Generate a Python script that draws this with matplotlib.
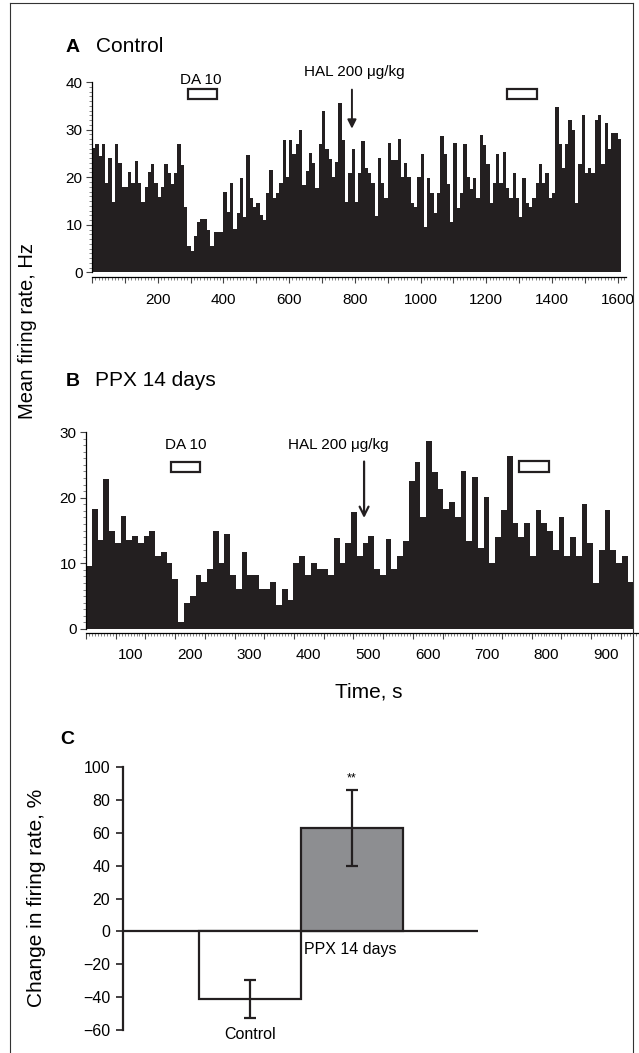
import matplotlib
matplotlib.use('Agg')
import matplotlib.pyplot as plt
from matplotlib.patches import Rectangle
from matplotlib.lines import Line2D
from matplotlib.ticker import MultipleLocator, FixedLocator, NullFormatter, NullLocator, FuncFormatter
import numpy as np

plt.rcParams['font.family'] = ['Liberation Sans', 'DejaVu Sans']

# Panel A: control cell, mean firing rate (Hz) in 10 s bins from 0 s
ctrl_rate = [26.1, 27, 24.5, 27, 18.7, 24, 14.7, 27, 23, 18, 18, 21, 18.7, 23.5, 18.7, 14.7,
             18, 21.2, 22.8, 18.7, 15.8, 18, 22.8, 20.8, 18.6, 20.8, 27, 22.6, 13.7, 5.6, 4.6,
             7.6, 10.6, 11.3, 11.3, 9, 5.6, 8.6, 8.6, 8.6, 16.8, 12.6,
             18.7, 9.2, 12.4, 19.9, 11.6, 24.6, 15.7, 13.8, 14.5, 12, 11.1, 16.7, 21.5, 15.7,
             16.7, 18.7, 27.8, 20, 27.8, 24.8, 26.9, 29.9, 18.3, 21.3, 25, 22.9, 17.8, 26.9,
             33.9, 26, 23.9, 20, 23.2, 35.5, 27.8, 14.7, 20.8, 26, 14.7,
             20.8, 27.6, 22, 20.8, 18.7, 11.8, 24.1, 18.7, 15.7, 27.1, 23.7, 23.7, 28.1, 20,
             23, 20, 14.6, 13.8, 20, 24.8, 9.5, 19.9, 16.6, 12.5, 16.6, 28.6, 24.8, 18.5, 10.7,
             27.1, 13.6, 16.6, 26.9, 20, 17.6, 19.9, 15.7, 28.8, 26.7, 22.8,
             14.6, 18.7, 24.8, 18.7, 25.2, 17.8, 15.7, 20.8, 15.7, 11.6, 19.9, 14.6, 13.8, 15.7,
             18.7, 22.8, 18.7, 20.8, 15.7, 16.6, 34.8, 26.9, 22, 26.9, 32.1, 29.9, 14.6, 22.8,
             33, 20.8, 22, 20.8, 32, 33, 22.8, 31.4, 26, 29.2, 29.2, 28.1]
ctrl_bin = 10
ctrl_da = (292, 380)
ctrl_da2 = (1263, 1354)
ctrl_hal = 791

# Panel B: PPX 14 days
ppx_rate = [9.65, 18.25, 13.5, 22.9, 15, 13.15, 17.15, 13.5, 14.15, 13.15, 14.15, 15, 11.1,
            11.65, 10, 7.65, 1.1, 3.95, 5, 8.15, 7.15, 9.1, 15, 10.1, 14.5,
            8.15, 6.15, 11.75, 8.15, 8.15, 6.15, 6.15, 7.1, 3.65, 6.15, 4.4, 10.1, 11.1, 8.15,
            10.1, 9.1, 9.1, 8.15, 13.85, 10.1, 13.15, 17.75,
            11.15, 13.15, 14.1, 9.1, 8.15, 13.75, 9.1, 11.1, 13.35, 22.6, 25.4, 17.1, 28.6,
            23.85, 21.25, 18.25, 19.35, 17.1, 24.1, 13.4, 23.1, 12.4, 20.1,
            10.1, 14, 18.1, 26.4, 16.1, 14, 16.1, 11.1, 18.1, 16.1, 15, 12.1, 17.1, 11.1, 14,
            11.1, 19.1, 13.1, 7, 12.1, 18.1, 12.1, 10.1, 11.1, 7.1]
ppx_start = 25
ppx_bin = 9.7
ppx_da = (168, 217)
ppx_da2 = (753, 805)
ppx_hal = 493

# Panel C
groups = ['Control', 'PPX 14 days']
change_pct = [-41, 63]
change_err = [11.5, 23.3]

W, H = 639, 1053
fig = plt.figure(figsize=(W / 100, H / 100), dpi=100)


def box(x0, y0, x1, y1):
    # pixel box -> figure fraction rect
    return [x0 / W, 1 - y1 / H, (x1 - x0) / W, (y1 - y0) / H]


dark = '#231f20'


def style_hist(ax):
    for s in ['top', 'right']:
        ax.spines[s].set_visible(False)
    ax.spines['bottom'].set_position(('outward', 3))
    ax.spines['left'].set_linewidth(0.9)
    ax.spines['bottom'].set_linewidth(0.9)
    ax.tick_params(which='major', direction='out', length=4.2, width=0.8, labelsize=11, color='#444')
    ax.tick_params(which='minor', direction='out', length=2.0, width=0.5, color='#555')
    ax.tick_params(axis='y', which='major', pad=2.5)


def add_box(ax, x0, x1, y0, y1):
    ax.add_patch(Rectangle((x0, y0), x1 - x0, y1 - y0, facecolor='white', edgecolor=dark,
                           linewidth=1.6, clip_on=False, zorder=5))


# ---------------- Panel A ----------------
axA = fig.add_axes(box(92, 82, 626, 272.5))
edgesA = np.arange(len(ctrl_rate)) * ctrl_bin
axA.bar(edgesA, ctrl_rate, width=ctrl_bin, align='edge', color=dark, linewidth=0, antialiased=False)
axA.set_xlim(0, 1625)
axA.set_ylim(0, 40)
style_hist(axA)
axA.xaxis.set_major_locator(MultipleLocator(100))
axA.xaxis.set_minor_locator(MultipleLocator(10))
axA.xaxis.set_major_formatter(FuncFormatter(lambda v, p: f'{int(v)}' if v > 0 and v % 200 == 0 else ''))
axA.yaxis.set_major_locator(MultipleLocator(10))
axA.yaxis.set_minor_locator(MultipleLocator(1))
axA.tick_params(axis='x', which='major', pad=7.5)

add_box(axA, ctrl_da[0], ctrl_da[1], 36.4, 38.5)
add_box(axA, ctrl_da2[0], ctrl_da2[1], 36.4, 38.5)
axA.text(sum(ctrl_da) / 2 - 5, 38.9, 'DA 10', ha='center', va='bottom', fontsize=11)
axA.text(ctrl_hal + 6, 40.6, 'HAL 200 \u03bcg/kg', ha='center', va='bottom', fontsize=11)
axA.annotate('', xy=(ctrl_hal, 30.2), xytext=(ctrl_hal, 38.4), annotation_clip=False,
             arrowprops=dict(arrowstyle='-|>', color=dark, lw=1.4, mutation_scale=13, shrinkA=0, shrinkB=0))

# ---------------- Panel B ----------------
axB = fig.add_axes(box(86, 432, 638, 629))
edgesB = ppx_start + np.arange(len(ppx_rate)) * ppx_bin
axB.bar(edgesB, ppx_rate, width=ppx_bin, align='edge', color=dark, linewidth=0, antialiased=False)
axB.set_xlim(25, 954)
axB.set_ylim(0, 30)
style_hist(axB)
axB.xaxis.set_major_locator(FixedLocator(np.arange(25, 951, 50)))
axB.xaxis.set_major_formatter(NullFormatter())
axB.xaxis.set_minor_locator(MultipleLocator(5))
axB.yaxis.set_major_locator(MultipleLocator(10))
axB.yaxis.set_minor_locator(MultipleLocator(1))
secB = axB.secondary_xaxis('bottom')
secB.set_xticks(np.arange(100, 1000, 100))
secB.xaxis.set_minor_locator(NullLocator())
secB.tick_params(length=0, pad=13.5, labelsize=11)
secB.spines['bottom'].set_visible(False)

add_box(axB, ppx_da[0], ppx_da[1], 23.9, 25.4)
add_box(axB, ppx_da2[0], ppx_da2[1], 23.9, 25.6)
axB.text(sum(ppx_da) / 2, 27.0, 'DA 10', ha='center', va='bottom', fontsize=11)
axB.text(449, 27.0, 'HAL 200 \u03bcg/kg', ha='center', va='bottom', fontsize=11)
axB.annotate('', xy=(ppx_hal, 16.9), xytext=(ppx_hal, 25.5), annotation_clip=False,
             arrowprops=dict(arrowstyle='->', color=dark, lw=1.6, mutation_scale=16, shrinkA=0, shrinkB=0))

# ---------------- Panel C ----------------
axC = fig.add_axes(box(122.7, 767.3, 478, 1030))
xpos = np.arange(1, len(groups) + 1)
axC.axhline(0, color=dark, lw=1.6, zorder=1)
axC.bar(xpos, change_pct, width=1.0, color=['white', '#8d8e91'], edgecolor=dark, linewidth=1.6, zorder=2)
axC.errorbar(xpos, change_pct, yerr=change_err, fmt='none', ecolor=dark, elinewidth=1.6,
             capsize=4.5, capthick=1.6, zorder=3)
axC.set_xlim(-0.25, 3.24)
axC.set_ylim(-60, 100)
for s in ['top', 'right', 'bottom']:
    axC.spines[s].set_visible(False)
axC.spines['left'].set_linewidth(1.6)
axC.spines['left'].set_color(dark)
axC.set_xticks([])
axC.yaxis.set_major_locator(MultipleLocator(20))
axC.tick_params(axis='y', direction='out', length=4.8, width=1.2, pad=4.3, labelsize=11.5, color=dark)
axC.text(xpos[0], -62.5, groups[0], ha='center', va='center', fontsize=11.5)
axC.text(xpos[1] - 0.47, -11, groups[1], ha='left', va='center', fontsize=11.5)
axC.text(xpos[1], 93, '**', ha='center', va='center', fontsize=9)

# ---------------- labels ----------------
fig.text(66 / W, 1 - 47 / H, 'A', fontsize=14, fontweight='bold', va='center')
fig.text(96 / W, 1 - 47 / H, 'Control', fontsize=15, va='center')
fig.text(66 / W, 1 - 381 / H, 'B', fontsize=14, fontweight='bold', va='center')
fig.text(95 / W, 1 - 381 / H, 'PPX 14 days', fontsize=15, va='center')
fig.text(60 / W, 1 - 740 / H, 'C', fontsize=14, fontweight='bold', va='center')
fig.text(28 / W, 1 - 331 / H, 'Mean firing rate, Hz', fontsize=14.5, rotation=90, ha='center', va='center')
fig.text(369 / W, 1 - 692 / H, 'Time, s', fontsize=15, ha='center', va='center')
fig.text(37 / W, 1 - 898 / H, 'Change in firing rate, %', fontsize=15, rotation=90, ha='center', va='center')

# frame around the figure
for xs, ys in [([10, 10], [3, H + 5]), ([10, 633], [3, 3]), ([633, 633], [3, H + 5])]:
    fig.add_artist(Line2D([x / W for x in xs], [1 - y / H for y in ys], color='#333', lw=0.8))

fig.savefig('out.png', dpi=100)
